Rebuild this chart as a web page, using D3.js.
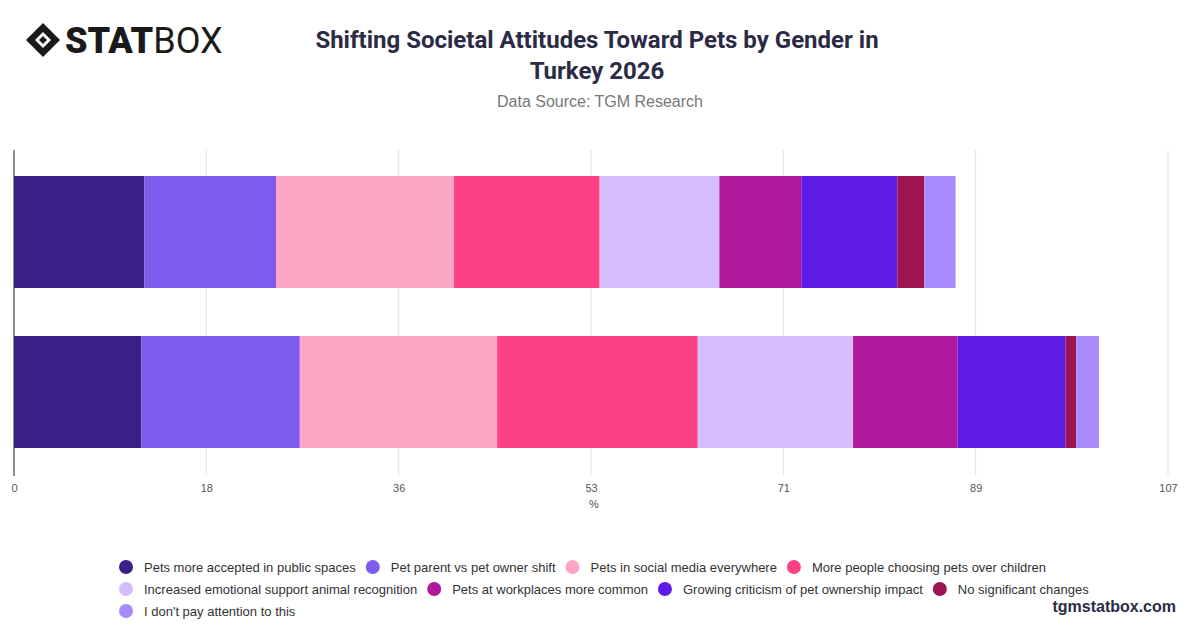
<!DOCTYPE html>
<html><head><meta charset="utf-8">
<script src="https://cdn.jsdelivr.net/npm/d3@7"></script>
<style>body{margin:0;background:#fff;font-family:"Liberation Sans",Arial,sans-serif}</style>
</head><body><svg id="c" width="1200" height="628"></svg>
<script>
// data
const groups = ['Male', 'Female'];
const seriesNames = ['Pets more accepted in public spaces', 'Pet parent vs pet owner shift', 'Pets in social media everywhere',
  'More people choosing pets over children', 'Increased emotional support animal recognition', 'Pets at workplaces more common',
  'Growing criticism of pet ownership impact', 'No significant changes', "I don't pay attention to this"];
const maleValues = [12.1, 12.2, 16.5, 13.5, 11.1, 7.6, 8.9, 2.5, 2.9];
const femaleValues = [11.8, 14.7, 18.3, 18.6, 14.4, 9.7, 10.0, 1.0, 2.1];
const colors = ['#3a1f86', '#7d5ced', '#fca5c5', '#fc4285', '#d5bdfc', '#b0199c', '#5e1be6', '#9c1452', '#a98afc'];
const tickLabels = ['0', '18', '36', '53', '71', '89', '107'];
const xMax = 107;

let svg = d3.select('#c');
let x = d3.scaleLinear().domain([0, xMax]).range([14, 1168]);
let y = d3.scaleBand().domain(groups).range([152, 472]).paddingInner(0.3).paddingOuter(0.15);

// gridlines
let ticks = d3.range(7).map(i => i * xMax / 6);
svg.append('g').selectAll('line').data(ticks).enter().append('line')
  .attr('x1', d => x(d)).attr('x2', d => x(d)).attr('y1', 150).attr('y2', 476)
  .attr('stroke', '#e3e3e3');
svg.append('line').attr('x1', 14).attr('x2', 14).attr('y1', 150).attr('y2', 476).attr('stroke', '#333');

// stacked bars
[maleValues, femaleValues].forEach((vals, gi) => {
  let acc = 0;
  vals.forEach((v, i) => {
    svg.append('rect').attr('x', x(acc)).attr('width', x(acc + v) - x(acc))
      .attr('y', y(groups[gi])).attr('height', y.bandwidth()).attr('fill', colors[i]);
    acc += v;
  });
});

// axis
let xAxis = d3.axisBottom(x).tickValues(ticks).tickFormat((d, i) => tickLabels[i]).tickSize(0).tickPadding(14);
let ax = svg.append('g').attr('transform', 'translate(0,470)').call(xAxis);
ax.select('.domain').remove();
ax.selectAll('text').attr('font-size', 11).attr('fill', '#555').attr('font-family', 'Liberation Sans');
svg.append('text').attr('x', 594).attr('y', 508).attr('text-anchor', 'middle').attr('font-size', 11).attr('fill', '#555').text('%');

// title
svg.append('text').attr('x', 597).attr('y', 48).attr('text-anchor', 'middle').attr('font-size', 24).attr('font-weight', 700)
  .attr('fill', '#2b2b45').attr('font-family', 'Roboto').text('Shifting Societal Attitudes Toward Pets by Gender in');
svg.append('text').attr('x', 597).attr('y', 79).attr('text-anchor', 'middle').attr('font-size', 24).attr('font-weight', 700)
  .attr('fill', '#2b2b45').attr('font-family', 'Roboto').text('Turkey 2026');
svg.append('text').attr('x', 600).attr('y', 107).attr('text-anchor', 'middle').attr('font-size', 16)
  .attr('fill', '#777').text('Data Source: TGM Research');

// logo
let logo = svg.append('g').attr('transform', 'translate(26,23)');
logo.append('path').attr('d', 'M17 0 L34 17 L17 34 L0 17 Z').attr('fill', '#1a1a1a');
logo.append('path').attr('d', 'M17 9 L25 17 L17 25 L9 17 Z').attr('fill', '#fff');
logo.append('path').attr('d', 'M17 13 L21 17 L17 21 L13 17 Z').attr('fill', '#1a1a1a');
logo.append('text').attr('x', 39).attr('y', 30).attr('font-size', 36).attr('font-family', 'Roboto')
  .attr('fill', '#1a1a1a').html('<tspan font-weight="900">STAT</tspan><tspan font-weight="400">BOX</tspan>');

// legend
let rows = [[0, 1, 2, 3], [4, 5, 6, 7], [8]];
rows.forEach((r, ri) => {
  let cx = 126;
  r.forEach(i => {
    let g = svg.append('g').attr('transform', `translate(${cx},${567 + ri * 22})`);
    g.append('circle').attr('r', 7).attr('fill', colors[i]);
    let t = g.append('text').attr('x', 18).attr('y', 5).attr('font-size', 13).attr('fill', '#333').text(seriesNames[i]);
    cx += 18 + t.node().getComputedTextLength() + 17;
  });
});

svg.append('text').attr('x', 1176).attr('y', 612).attr('text-anchor', 'end').attr('font-size', 16).attr('font-weight', 700)
  .attr('fill', '#2b2b45').text('tgmstatbox.com');
</script></body></html>
